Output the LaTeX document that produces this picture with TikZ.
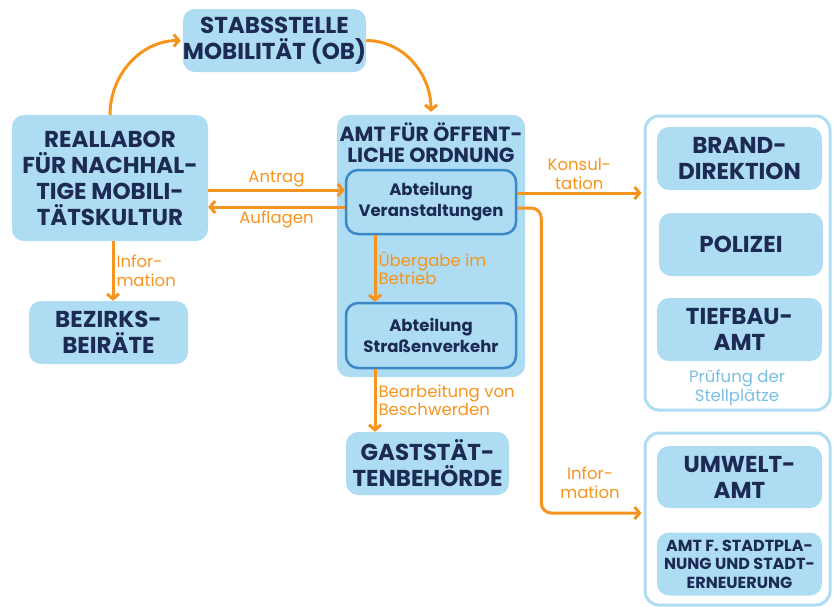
\documentclass[tikz,border=0pt]{standalone}
\usepackage{fontspec}
\setmainfont{Poppins}
\usetikzlibrary{arrows.meta}

\definecolor{boxblue}{RGB}{174,220,242}
\definecolor{navy}{RGB}{28,42,84}
\definecolor{amber}{RGB}{247,148,29}
\definecolor{midblue}{RGB}{58,136,200}
\definecolor{paleblue}{RGB}{122,192,230}

\begin{document}
\begin{tikzpicture}
[
    x=1pt, y=-1pt,
    box/.style={fill=boxblue, rounded corners=12pt, text=navy, align=center, inner sep=0pt,
        font=\bfseries\fontsize{23}{26}\selectfont},
    abt/.style={box, draw=midblue, line width=2.5pt, font=\bfseries\fontsize{16.5}{21}\selectfont},
    group/.style={draw=boxblue, line width=3pt, rounded corners=14pt, fill=white},
    arr/.style={draw=amber, line width=3pt, -{Straight Barb[length=5pt,width=12pt]}},
    lbl/.style={text=amber, font=\fontsize{16.5}{18.5}\selectfont, align=center, inner sep=2pt},
]
\useasboundingbox (0,0) rectangle (833,606);

% left side
\node [box, minimum width=179pt, minimum height=63pt] (stab) at (274.5,40.5)
    {STABSSTELLE\\MOBILITÄT (OB)};
\node [box, minimum width=196pt, minimum height=126pt] (real) at (110,178)
    {REALLABOR\\FÜR NACHHAL-\\TIGE MOBILI-\\TÄTSKULTUR};
\node [box, minimum width=159pt, minimum height=63pt] (bez) at (108.5,332.5)
    {BEZIRKS-\\BEIRÄTE};

% middle
\node [box, minimum width=188pt, minimum height=262pt] (amt) at (431,246) {};
\node [text=navy, align=center, font=\bfseries\fontsize{20.5}{21}\selectfont] (amttitle) at (431,143)
    {AMT FÜR ÖFFENT-\\LICHE ORDNUNG};
\node [abt, minimum width=170pt, minimum height=64pt] (ver) at (431,202)
    {Abteilung\\Veranstaltungen};
\node [abt, minimum width=170pt, minimum height=65pt] (str) at (431,335.5)
    {Abteilung\\Straßenverkehr};
\node [box, minimum width=163pt, minimum height=63pt] (gast) at (427.5,463.5)
    {GASTSTÄT-\\TENBEHÖRDE};

% right side
\node [group, minimum width=185pt, minimum height=294pt] (pruef) at (737.5,263) {};
\node [box, minimum width=165pt, minimum height=63pt] (brand) at (739.5,158.5)
    {BRAND-\\DIREKTION};
\node [box, minimum width=164pt, minimum height=63pt] (pol) at (741,244.5)
    {POLIZEI};
\node [box, minimum width=165pt, minimum height=63pt] (tief) at (739.5,329.5)
    {TIEFBAU-\\AMT};
\node [lbl, text=paleblue] (prueftext) at (737,388)
    {Prüfung der\\Stellplätze};
\node [group, minimum width=185pt, minimum height=172pt] (info) at (737.5,519) {};
\node [box, minimum width=165pt, minimum height=62pt] (umw) at (739.5,477)
    {UMWELT-\\AMT};
\node [box, minimum width=165pt, minimum height=63pt, font=\bfseries\fontsize{16}{18.5}\selectfont] (stadt) at (739.5,564)
    {AMT F. STADTPLA-\\NUNG UND STADT-\\ERNEUERUNG};

% connectors
\draw [arr] (real.north) to[out=90, in=180] ([xshift=-2pt]stab.west);
\draw [arr] (stab.east) to[out=0, in=90] ([yshift=3pt]amt.north);
\draw [arr] ([yshift=-12pt]real.east) -- ([yshift=-12pt]real.east -| ver.west)
    node [lbl, midway, above] {Antrag};
\draw [arr] ([yshift=-5pt]ver.west) -- ([yshift=-5pt]ver.west -| real.east)
    node [lbl, midway, below] {Auflagen};
\draw [arr] ([xshift=3pt]real.south) -- ([xshift=3pt]real.south |- bez.north)
    node [lbl, midway, right, align=left] {Infor-\\mation};
\draw [arr] ([xshift=-56pt]ver.south) -- ([xshift=-56pt]str.north)
    node [lbl, midway, right, align=left] {Übergabe im\\Betrieb};
\draw [arr] ([xshift=-56pt]str.south) -- ([xshift=-56pt]str.south |- gast.north)
    node [lbl, midway, right, align=left] {Bearbeitung von\\Beschwerden};
\draw [arr] ([yshift=9pt]ver.east) -- ([yshift=9pt,xshift=-2pt]ver.east -| pruef.west)
    node [lbl, midway, above] {Konsul-\\tation};
\draw [arr, rounded corners=10pt] ([yshift=-6pt]ver.east) -- ++(24,0)
    |- ([yshift=6pt,xshift=-2pt]info.west);
\node [lbl] (infolbl) at (590,483) {Infor-\\mation};
\end{tikzpicture}
\end{document}
